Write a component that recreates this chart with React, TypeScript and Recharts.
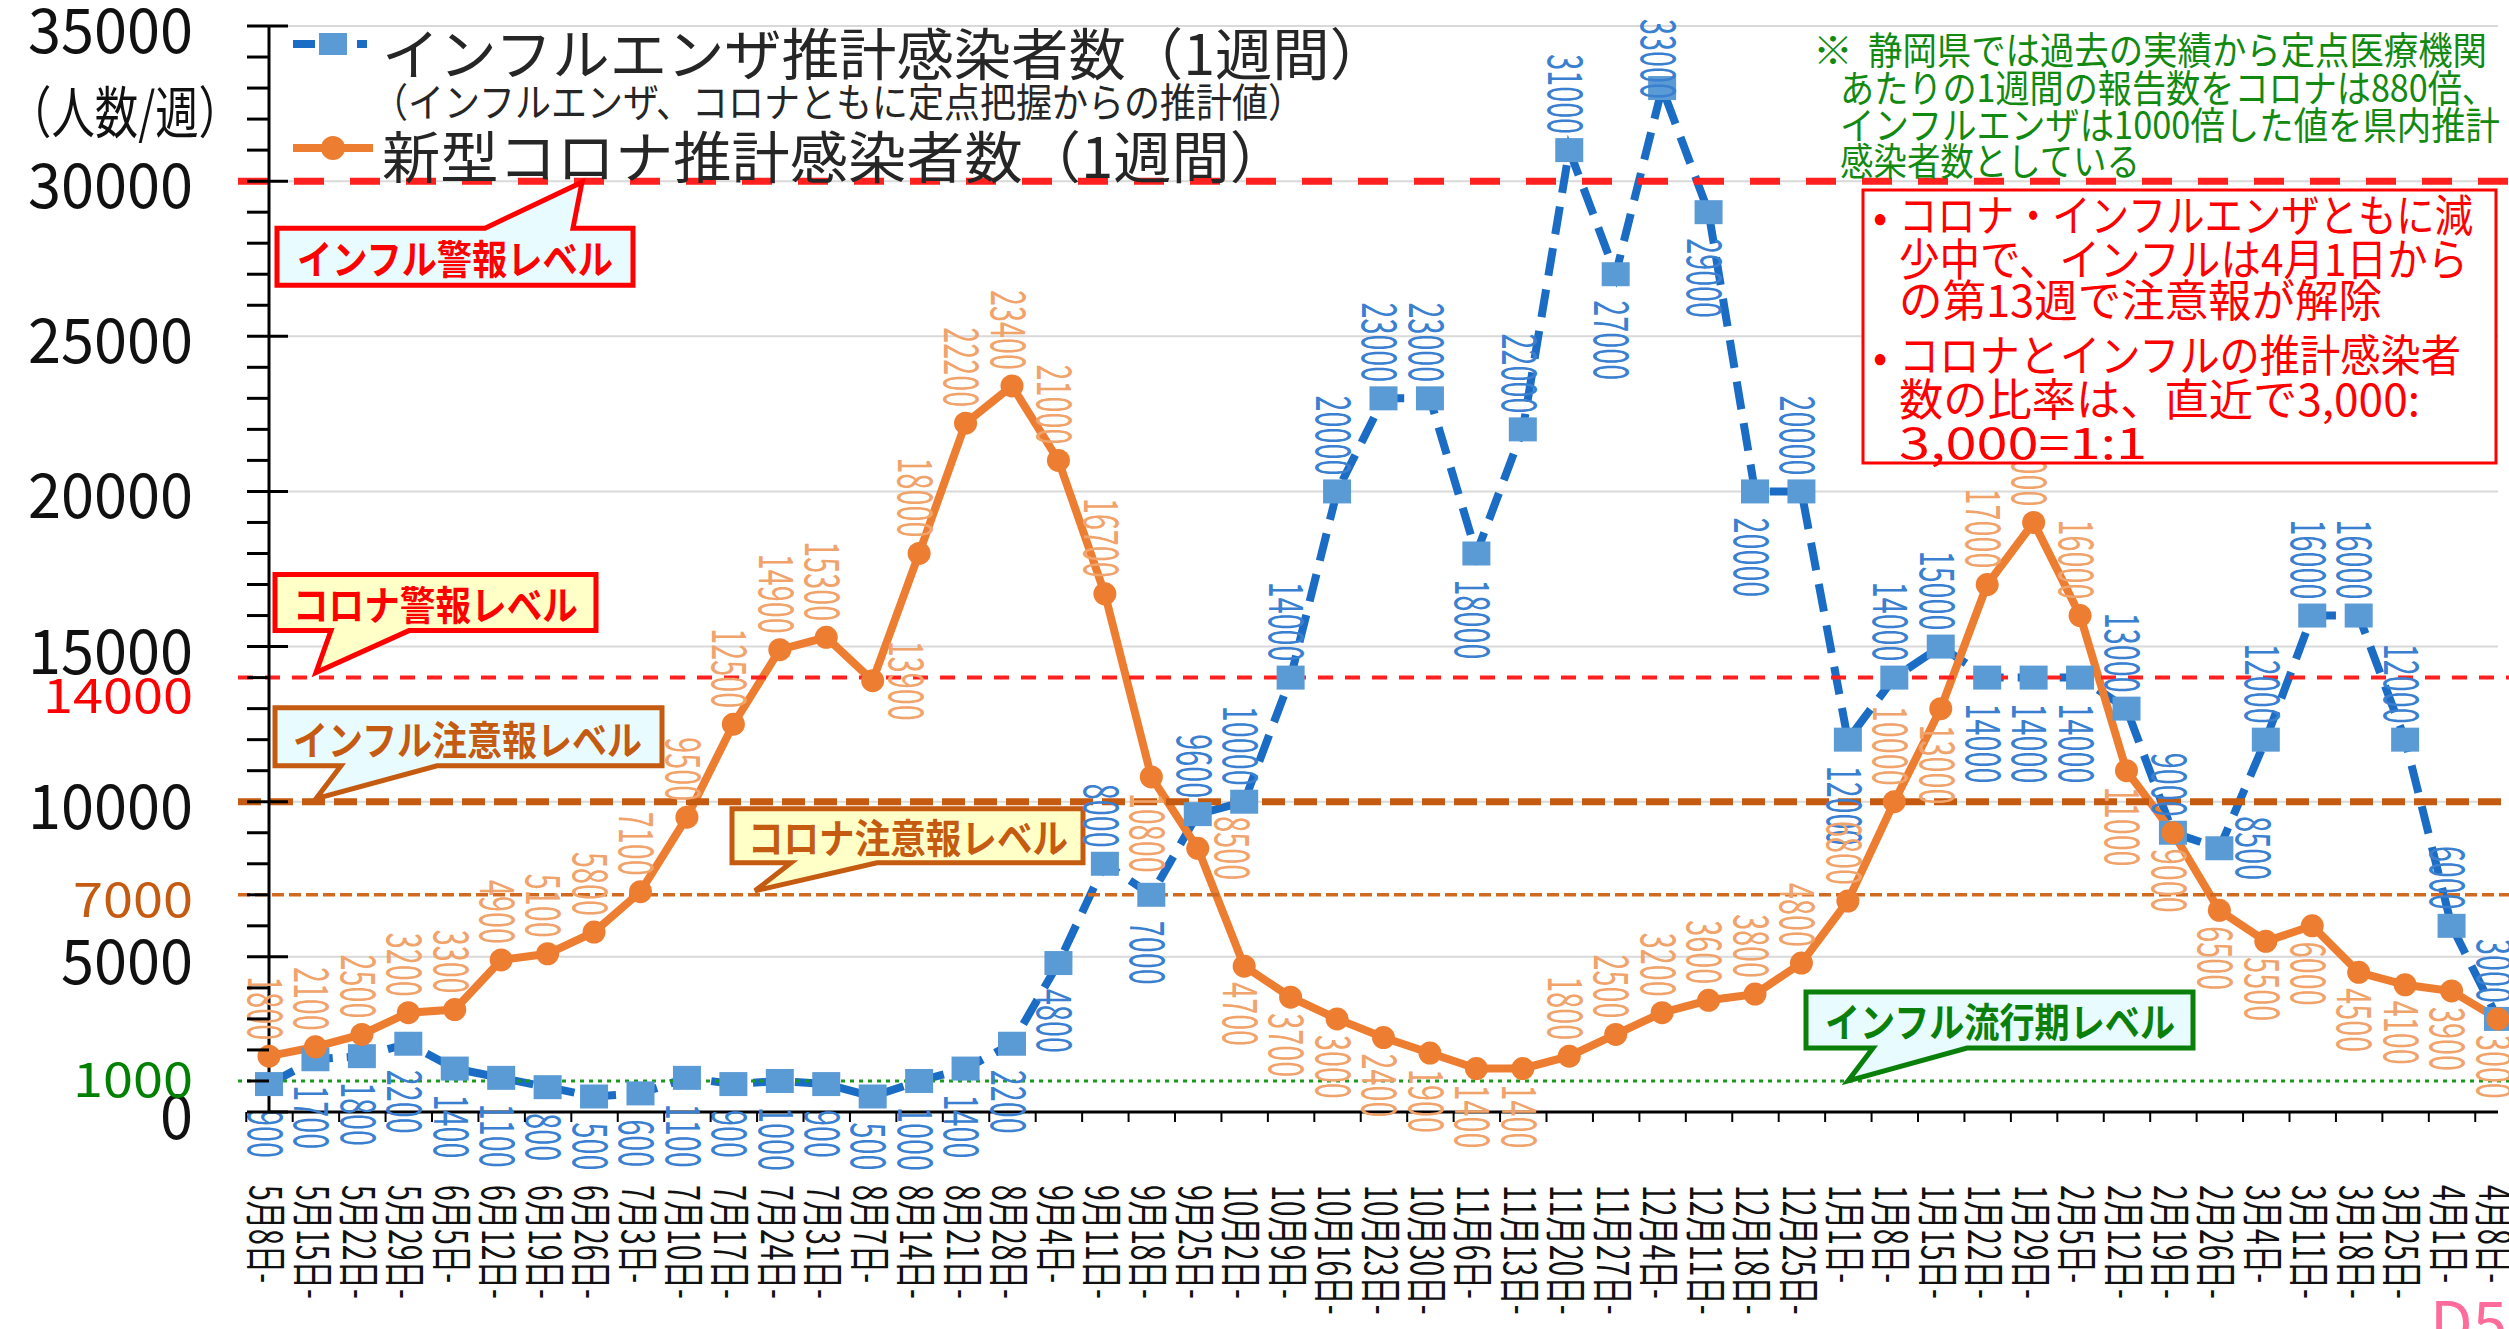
import React from 'react';
import { LineChart, Line, XAxis, YAxis, ReferenceLine, Legend } from 'recharts';

// weekly estimates, Shizuoka (flu x1000, covid x880 of sentinel reports)
const weeks = [
  '5月8日-', '5月15日-', '5月22日-', '5月29日-', '6月5日-', '6月12日-', '6月19日-', '6月26日-',
  '7月3日-', '7月10日-', '7月17日-', '7月24日-', '7月31日-', '8月7日-', '8月14日-', '8月21日-',
  '8月28日-', '9月4日-', '9月11日-', '9月18日-', '9月25日-', '10月2日-', '10月9日-', '10月16日-',
  '10月23日-', '10月30日-', '11月6日-', '11月13日-', '11月20日-', '11月27日-', '12月4日-', '12月11日-',
  '12月18日-', '12月25日-', '1月1日-', '1月8日-', '1月15日-', '1月22日-', '1月29日-', '2月5日-',
  '2月12日-', '2月19日-', '2月26日-', '3月4日-', '3月11日-', '3月18日-', '3月25日-', '4月1日-', '4月8日-',
];

const fluCases = [
  900, 1700, 1800, 2200, 1400, 1100, 800, 500, 600, 1100, 900, 1000, 900, 500, 1000, 1400,
  2200, 4800, 8000, 7000, 9600, 10000, 14000, 20000, 23000, 23000, 18000, 22000, 31000, 27000, 33000, 29000,
  20000, 20000, 12000, 14000, 15000, 14000, 14000, 14000, 13000, 9000, 8500, 12000, 16000, 16000, 12000, 6000, 3000,
];

const covidCases = [
  1800, 2100, 2500, 3200, 3300, 4900, 5100, 5800, 7100, 9500, 12500, 14900, 15300, 13900, 18000, 22200,
  23400, 21000, 16700, 10800, 8500, 4700, 3700, 3000, 2400, 1900, 1400, 1400, 1800, 2500, 3200, 3600,
  3800, 4800, 6800, 10000, 13000, 17000, 19000, 16000, 11000, 9000, 6500, 5500, 6000, 4500, 4100, 3900, 3000,
];

// where each data label sits: a = above, b = below, r = right
const fluLabelSide = [
  'b', 'b', 'b', 'b', 'b', 'b', 'b', 'b', 'b', 'b', 'b', 'b', 'b', 'b', 'b', 'b',
  'b', 'b', 'a', 'b', 'a', 'a', 'a', 'a', 'a', 'a', 'b', 'a', 'a', 'b', 'a', 'b',
  'b', 'a', 'b', 'a', 'a', 'b', 'b', 'b', 'a', 'a', 'r', 'a', 'a', 'a', 'a', 'a', 'a',
];
const covidLabelSide = [
  'a', 'a', 'a', 'a', 'a', 'a', 'a', 'a', 'a', 'a', 'a', 'a', 'a', 'r', 'a', 'a',
  'a', 'a', 'a', 'b', 'r', 'b', 'b', 'b', 'b', 'b', 'b', 'b', 'a', 'a', 'a', 'a',
  'a', 'a', 'a', 'a', 'b', 'a', 'a', 'a', 'b', 'b', 'b', 'b', 'b', 'b', 'b', 'b', 'b',
];

const yTicks = [
  0, 1000, 2000, 3000, 4000, 5000, 6000, 7000, 8000, 9000, 10000, 11000, 12000, 13000, 14000, 15000, 16000, 17000,
  18000, 19000, 20000, 21000, 22000, 23000, 24000, 25000, 26000, 27000, 28000, 29000, 30000, 31000, 32000, 33000, 34000, 35000,
];
const gridValues = [5000, 10000, 15000, 20000, 25000, 30000, 35000];

const data = weeks.map((week, i) => ({ week, flu: fluCases[i], covid: covidCases[i] }));

const W = 2509;
const H = 1329;
const PLOT_LEFT = 269;
const PLOT_RIGHT = 2498;
const BAND = (PLOT_RIGHT - PLOT_LEFT) / weeks.length;
const LEVEL_START = 238;

const FLU_LINE = '#1a6cc4';
const FLU_MARK = '#5b9bd5';
const FLU_TEXT = '#3a7fd0';
const COVID = '#ed7d31';
const COVID_TEXT = '#f0a36b';
const RED = '#ff0000';
const BROWN = '#c55a11';
const GREEN = '#0a800a';
const FONT = '"Noto Sans CJK JP", "Noto Sans", sans-serif';

function ValueLabel({ cx, cy, value, side, color, above, below }: any) {
  const len = String(value).length * 17;
  let tx = cx;
  let ty = cy;
  let anchor = 'middle';
  if (side === 'a') {
    ty = Math.max(cy - above, 14 + len);
    anchor = 'end';
  } else if (side === 'b') {
    ty = cy + below;
    anchor = 'start';
  } else {
    tx = cx + 38;
  }
  return (
    <text
      transform={`translate(${tx},${ty}) rotate(90) scale(0.6,1)`}
      textAnchor={anchor}
      dominantBaseline="central"
      fontSize={48}
      fill={color}
    >
      {value}
    </text>
  );
}

const fluDot = (p: any) => (
  <g key={`f${p.index}`}>
    <rect x={p.cx - 14} y={p.cy - 12} width={28} height={24} fill={FLU_MARK} />
    <ValueLabel cx={p.cx} cy={p.cy} value={fluCases[p.index]} side={fluLabelSide[p.index]} color={FLU_TEXT} above={16} below={26} />
  </g>
);

const covidDot = (p: any) => (
  <g key={`c${p.index}`}>
    <circle cx={p.cx} cy={p.cy} r={11.5} fill={COVID} />
    <ValueLabel cx={p.cx} cy={p.cy} value={covidCases[p.index]} side={covidLabelSide[p.index]} color={COVID_TEXT} above={16} below={16} />
  </g>
);

function WeekTick({ x, y, payload, index }: any) {
  const left = x - BAND / 2;
  return (
    <g>
      <line x1={left} x2={left} y1={y} y2={y + 10} stroke="#000" strokeWidth={2} />
      {index === weeks.length - 1 && (
        <line x1={x + BAND / 2} x2={x + BAND / 2} y1={y} y2={y + 10} stroke="#000" strokeWidth={2} />
      )}
      <text
        transform={`translate(${x},${y + 73}) rotate(90) scale(0.66,1)`}
        textAnchor="start"
        dominantBaseline="central"
        fontSize={43}
        fill="#111"
      >
        {payload.value}
      </text>
    </g>
  );
}

const specialTicks: Record<number, { color: string; dy: number }> = {
  14000: { color: RED, dy: 14 },
  7000: { color: BROWN, dy: 1 },
  1000: { color: '#008000', dy: -5 },
};

function CountTick({ y, payload }: any) {
  const v = payload.value;
  const major = v % 5000 === 0;
  const special = specialTicks[v];
  const digits = String(v).length;
  return (
    <g>
      <line x1={PLOT_LEFT - 22} x2={major ? PLOT_LEFT + 19 : PLOT_LEFT} y1={y} y2={y} stroke="#000" strokeWidth={3} />
      {major && (
        <text x={193} y={y} textAnchor="end" dominantBaseline="central" fontSize={62} fill="#111"
          textLength={digits * 33} lengthAdjust="spacingAndGlyphs">
          {v}
        </text>
      )}
      {special && (
        <text x={193} y={y + special.dy} textAnchor="end" dominantBaseline="central" fontSize={48} fill={special.color}
          textLength={digits * 30} lengthAdjust="spacingAndGlyphs">
          {v}
        </text>
      )}
    </g>
  );
}

type CalloutCfg = {
  x0: number; x1: number; top: number; bot: number; b1: number; b2: number;
  tipX: number; tipY: number; fill: string; stroke: string; text: string; textX: number; textLen: number; textY: number;
};

function Callout({ y, c }: { y: number; c: CalloutCfg }) {
  const top = y + c.top;
  const bot = y + c.bot;
  const tipY = y + c.tipY;
  const up = c.tipY < c.top;
  const d = up
    ? `M${c.x0},${top} L${c.b1},${top} L${c.tipX},${tipY} L${c.b2},${top} L${c.x1},${top} L${c.x1},${bot} L${c.x0},${bot} Z`
    : `M${c.x0},${top} L${c.x1},${top} L${c.x1},${bot} L${c.b2},${bot} L${c.tipX},${tipY} L${c.b1},${bot} L${c.x0},${bot} Z`;
  return (
    <g>
      <path d={d} fill={c.fill} stroke={c.stroke} strokeWidth={5} strokeLinejoin="miter" />
      <text x={c.textX} y={y + c.textY} dominantBaseline="central" fontSize={40} fontWeight="bold" fill={c.stroke}
        textLength={c.textLen} lengthAdjust="spacingAndGlyphs">
        {c.text}
      </text>
    </g>
  );
}

const levelShape = (stroke: string, width: number, dash: string, callout?: CalloutCfg) => (p: any) => (
  <g>
    <line x1={LEVEL_START} x2={W} y1={p.y1} y2={p.y1} stroke={stroke} strokeWidth={width} strokeDasharray={dash} />
    {callout && <Callout y={p.y1} c={callout} />}
  </g>
);

const fluAlarm: CalloutCfg = {
  x0: 277, x1: 633, top: 47, bot: 104, b1: 485, b2: 573, tipX: 582, tipY: 1,
  fill: '#e8fbff', stroke: RED, text: 'インフル警報レベル', textX: 297, textLen: 316, textY: 76,
};
const covidAlarm: CalloutCfg = {
  x0: 275, x1: 596, top: -103, bot: -47, b1: 331, b2: 409, tipX: 316, tipY: -5,
  fill: '#ffffc8', stroke: RED, text: 'コロナ警報レベル', textX: 293, textLen: 285, textY: -75,
};
const fluCaution: CalloutCfg = {
  x0: 275, x1: 662, top: -94, bot: -36, b1: 341, b2: 437, tipX: 316, tipY: -3,
  fill: '#e8fbff', stroke: BROWN, text: 'インフル注意報レベル', textX: 293, textLen: 349, textY: -64,
};
const covidCaution: CalloutCfg = {
  x0: 732, x1: 1083, top: -86, bot: -32, b1: 791, b2: 877, tipX: 755, tipY: -4,
  fill: '#ffffc8', stroke: BROWN, text: 'コロナ注意報レベル', textX: 748, textLen: 320, textY: -59,
};
const fluSeason: CalloutCfg = {
  x0: 1806, x1: 2193, top: -89, bot: -33, b1: 1873, b2: 1967, tipX: 1848, tipY: 0,
  fill: '#e8fbff', stroke: GREEN, text: 'インフル流行期レベル', textX: 1825, textLen: 350, textY: -61,
};

function LegendBox() {
  return (
    <svg width={1420} height={190} style={{ overflow: 'visible', fontFamily: FONT }}>
      <line x1={293} x2={367} y1={44} y2={44} stroke={FLU_LINE} strokeWidth={8} strokeDasharray="22 10" />
      <rect x={319} y={33} width={28} height={22} fill={FLU_MARK} />
      <text x={382} y={50} dominantBaseline="central" fontSize={56} fill="#262626" textLength={1005} lengthAdjust="spacingAndGlyphs">
        インフルエンザ推計感染者数（1週間）
      </text>
      <text x={372} y={100} dominantBaseline="central" fontSize={40} fill="#262626" textLength={932} lengthAdjust="spacingAndGlyphs">
        （インフルエンザ、コロナともに定点把握からの推計値）
      </text>
      <line x1={293} x2={373} y1={148} y2={148} stroke={COVID} strokeWidth={8} />
      <circle cx={333} cy={148} r={12} fill={COVID} />
      <text x={382} y={153} dominantBaseline="central" fontSize={56} fill="#262626" textLength={906} lengthAdjust="spacingAndGlyphs">
        新型コロナ推計感染者数（1週間）
      </text>
    </svg>
  );
}

function Line_({ x, y, len, size, color, children }: any) {
  return (
    <text x={x} y={y} dominantBaseline="central" fontSize={size} fill={color} textLength={len} lengthAdjust="spacingAndGlyphs">
      {children}
    </text>
  );
}

function Notes() {
  const g = '#128a12';
  return (
    <svg width={W} height={H} style={{ position: 'absolute', left: 0, top: 0, pointerEvents: 'none', fontFamily: FONT }}>
      <Line_ x={8} y={108} len={234} size={56} color="#111">（人数/週）</Line_>

      <Line_ x={1813} y={47} len={40} size={38} color={g}>※</Line_>
      <Line_ x={1868} y={47} len={619} size={38} color={g}>静岡県では過去の実績から定点医療機関</Line_>
      <Line_ x={1840} y={85} len={656} size={38} color={g}>あたりの1週間の報告数をコロナは880倍、</Line_>
      <Line_ x={1840} y={122} len={660} size={38} color={g}>インフルエンザは1000倍した値を県内推計</Line_>
      <Line_ x={1840} y={158} len={300} size={38} color={g}>感染者数としている</Line_>

      <rect x={1863} y={190} width={633} height={273} fill="#fff" stroke={RED} strokeWidth={3} />
      <text x={1873} y={213} dominantBaseline="central" fontSize={42} fill={RED}>•</text>
      <Line_ x={1899} y={213} len={574} size={44} color={RED}>コロナ・インフルエンザともに減</Line_>
      <Line_ x={1899} y={257} len={569} size={44} color={RED}>少中で、インフルは4月1日から</Line_>
      <Line_ x={1899} y={298} len={483} size={44} color={RED}>の第13週で注意報が解除</Line_>
      <text x={1873} y={353} dominantBaseline="central" fontSize={42} fill={RED}>•</text>
      <Line_ x={1899} y={353} len={562} size={44} color={RED}>コロナとインフルの推計感染者</Line_>
      <Line_ x={1899} y={397} len={521} size={44} color={RED}>数の比率は、直近で3,000:</Line_>
      <Line_ x={1899} y={440} len={248} size={44} color={RED}>3,000=1:1</Line_>

      <text x={2430} y={1346} fontSize={62} fill="#ff6b9a">D5</text>
    </svg>
  );
}

export default function App() {
  return (
    <div style={{ position: 'absolute', left: 0, top: 0, width: W, height: H, background: '#fff', fontFamily: FONT, overflow: 'hidden' }}>
      <LineChart width={W} height={H} data={data} margin={{ top: 26, right: W - PLOT_RIGHT, left: 0, bottom: 0 }}>
        {gridValues.map((v) => (
          <ReferenceLine key={`g${v}`} y={v} stroke="#d9d9d9" strokeWidth={2} />
        ))}
        <XAxis
          dataKey="week"
          interval={0}
          height={H - 1112}
          tickSize={0}
          tickMargin={0}
          tickLine={false}
          axisLine={{ stroke: '#000', strokeWidth: 3 }}
          tick={<WeekTick />}
        />
        <YAxis
          domain={[0, 35000]}
          ticks={yTicks}
          interval={0}
          width={PLOT_LEFT}
          tickSize={0}
          tickMargin={0}
          tickLine={false}
          axisLine={{ stroke: '#000', strokeWidth: 3 }}
          tick={<CountTick />}
        />
        <Legend
          verticalAlign="middle"
          align="center"
          layout="horizontal"
          content={() => <LegendBox />}
          wrapperStyle={{ left: 0, top: 0, width: 1420, height: 190 }}
        />
        <Line
          type="linear"
          dataKey="flu"
          stroke={FLU_LINE}
          strokeWidth={8}
          strokeDasharray="28 14"
          dot={fluDot}
          activeDot={false}
          isAnimationActive={false}
        />
        <Line
          type="linear"
          dataKey="covid"
          stroke={COVID}
          strokeWidth={8}
          dot={covidDot}
          activeDot={false}
          isAnimationActive={false}
        />
        <ReferenceLine y={30000} shape={levelShape('#ff2020', 7, '30 26', fluAlarm)} />
        <ReferenceLine y={14000} shape={levelShape('#ff2020', 4, '15 12', covidAlarm)} />
        <ReferenceLine y={10000} shape={levelShape(BROWN, 7, '23 9', fluCaution)} />
        <ReferenceLine y={7000} shape={levelShape('#d06a20', 3.5, '12 5', covidCaution)} />
        <ReferenceLine y={1000} shape={levelShape('#1a9a1a', 3, '4 5', fluSeason)} />
      </LineChart>
      <Notes />
    </div>
  );
}
